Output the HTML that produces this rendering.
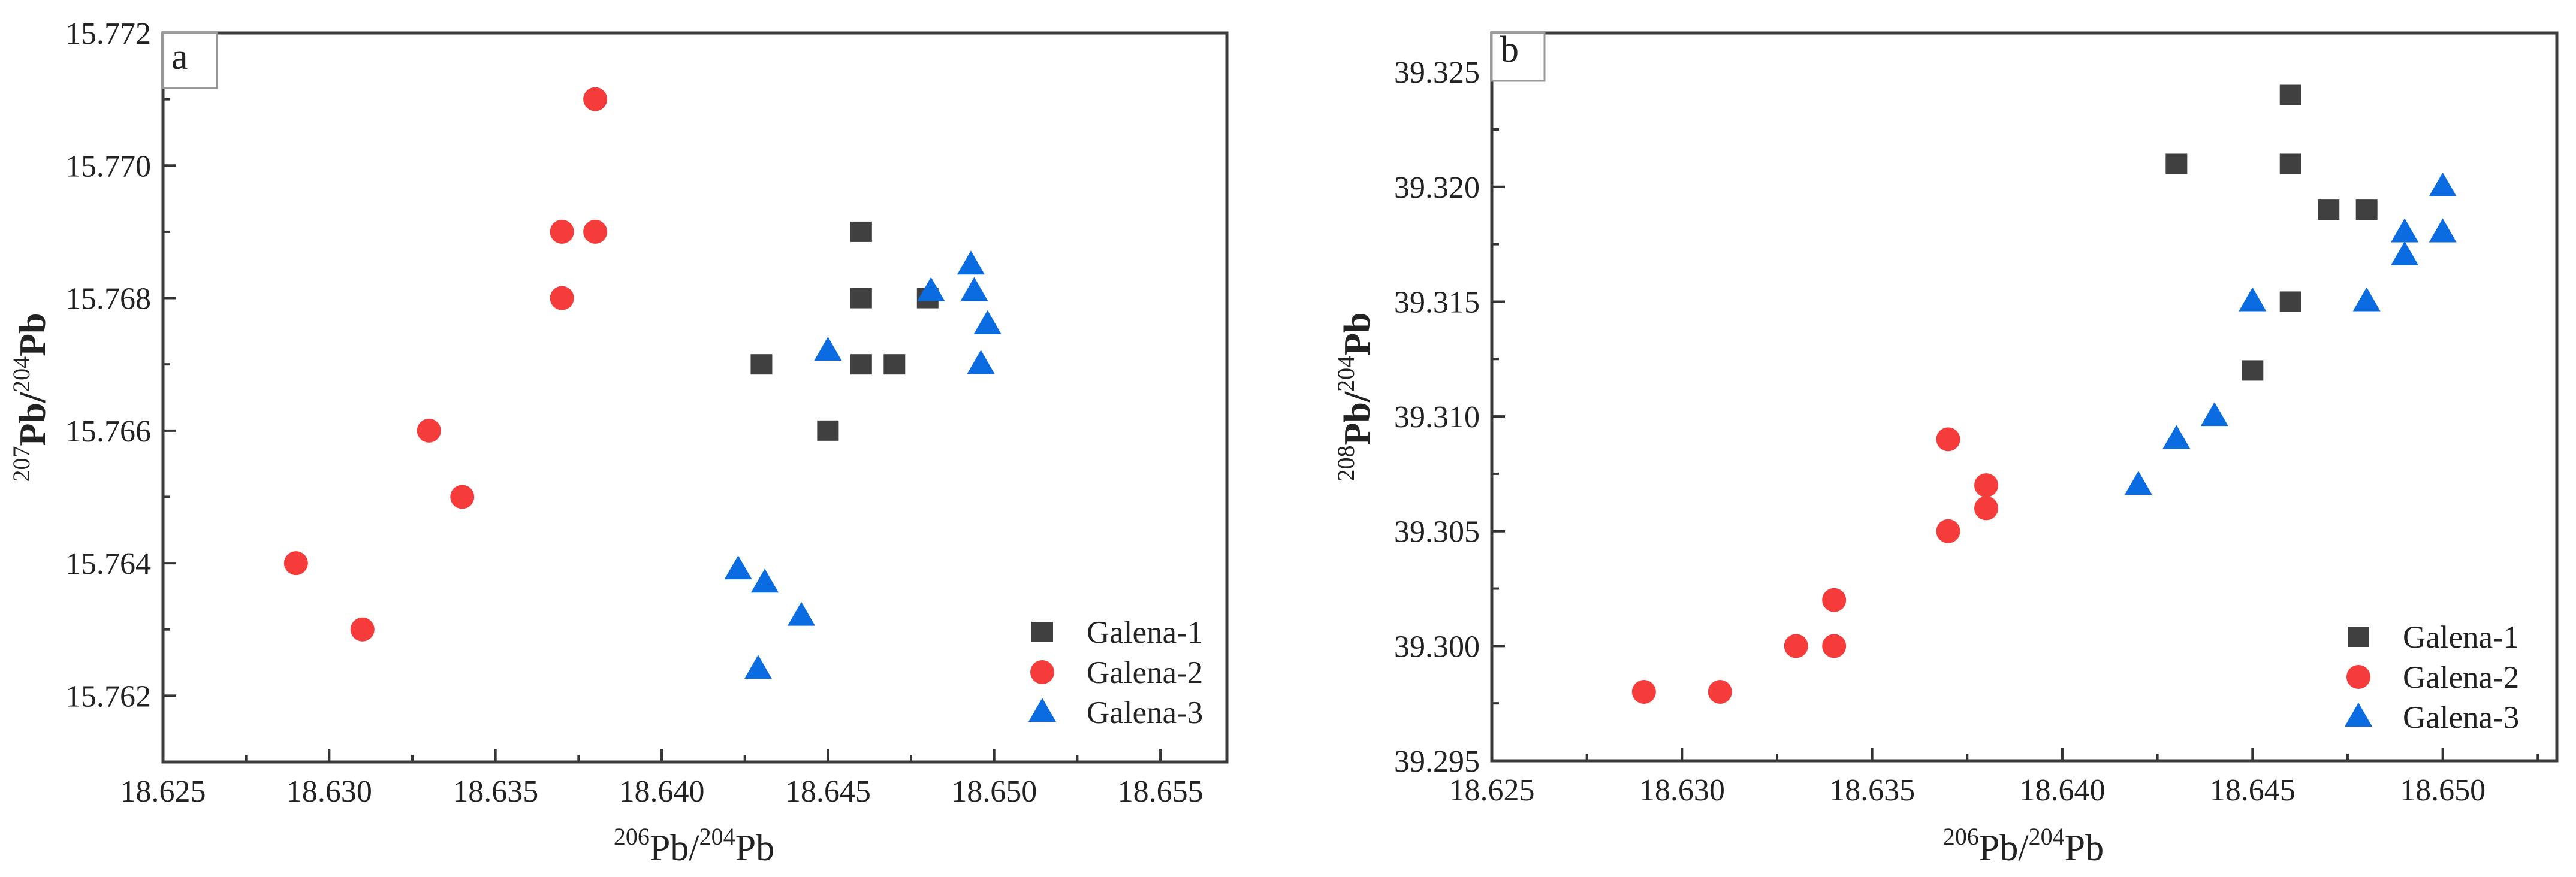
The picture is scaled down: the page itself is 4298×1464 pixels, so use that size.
<!DOCTYPE html>
<html><head><meta charset="utf-8"><style>
html,body{margin:0;padding:0;background:#fff}
svg{display:block}
text{font-family:"Liberation Serif",serif;fill:#222}
</style></head><body>
<svg id="fig" width="4298" height="1464" viewBox="0 0 4298 1464" xmlns="http://www.w3.org/2000/svg"></svg>
<script>
// Panel a data
const aG1x=[18.646,18.646,18.648,18.643,18.646,18.647,18.645];
const aG1y=[15.769,15.768,15.768,15.767,15.767,15.767,15.766];
const aG2x=[18.638,18.637,18.638,18.637,18.633,18.634,18.629,18.631];
const aG2y=[15.771,15.769,15.769,15.768,15.766,15.765,15.764,15.763];
const aG3x=[18.6481,18.6493,18.6494,18.6498,18.6496,18.6450,18.6423,18.6431,18.6442,18.6429];
const aG3y=[15.7681,15.7685,15.7681,15.7676,15.7670,15.7672,15.7639,15.7637,15.7632,15.7624];
// Panel b data
const bG1x=[18.646,18.643,18.646,18.647,18.648,18.646,18.645];
const bG1y=[39.324,39.321,39.321,39.319,39.319,39.315,39.312];
const bG2x=[18.637,18.638,18.638,18.637,18.634,18.633,18.634,18.629,18.631];
const bG2y=[39.309,39.307,39.306,39.305,39.302,39.300,39.300,39.298,39.298];
const bG3x=[18.650,18.649,18.650,18.649,18.645,18.648,18.644,18.643,18.642];
const bG3y=[39.320,39.318,39.318,39.317,39.315,39.315,39.310,39.309,39.307];
const aXTicks=["18.625","18.630","18.635","18.640","18.645","18.650","18.655"];
const aYTicks=["15.762","15.764","15.766","15.768","15.770","15.772"];
const bXTicks=["18.625","18.630","18.635","18.640","18.645","18.650"];
const bYTicks=["39.295","39.300","39.305","39.310","39.315","39.320","39.325"];
const seriesNames=["Galena-1","Galena-2","Galena-3"];

const NS="http://www.w3.org/2000/svg";
const svg=document.getElementById('fig');
function mk(tag,attrs,parent){const e=document.createElementNS(NS,tag);for(const k in attrs)e.setAttribute(k,attrs[k]);(parent||svg).appendChild(e);return e;}
const COL=["#404040","#f63b3b","#0b6be0"];

function marker(g,type,cx,cy){
  let e;
  if(type===0){e=mk('rect',{x:cx-18,y:cy-17,width:36,height:34,fill:COL[0]},g);}
  else if(type===1){e=mk('circle',{cx:cx,cy:cy,r:20,fill:COL[1]},g);}
  else {e=mk('polygon',{points:`${cx},${cy-24} ${cx-23},${cy+16} ${cx+23},${cy+16}`,fill:COL[2]},g);}
  return e;
}

function panel(cfg){
  const g=mk('g',{});
  
  
  const X=v=>cfg.L+(v-cfg.x0)/(cfg.x1-cfg.x0)*(cfg.R-cfg.L);
  const Y=v=>cfg.B-(v-cfg.y0)/(cfg.y1-cfg.y0)*(cfg.B-cfg.T);
  // ticks x
  cfg.xt.forEach((t,i)=>{
    const v=parseFloat(t), px=X(v);
    const tk=mk('line',{x1:px,x2:px,y1:cfg.B,y2:cfg.B-22,stroke:'#333','stroke-width':4},g);
    
    
    const lb=mk('text',{x:px,y:cfg.B+66,'text-anchor':'middle','font-size':52},g);
    lb.textContent=t;
    
    
    const mv=v+cfg.xs/2;
    if(mv<cfg.x1){const mp=X(mv);const m=mk('line',{x1:mp,x2:mp,y1:cfg.B,y2:cfg.B-12,stroke:'#333','stroke-width':4},g);
      
      }
  });
  cfg.yt.forEach(t=>{
    const v=parseFloat(t), py=Y(v);
    const tk=mk('line',{x1:cfg.L,x2:cfg.L+22,y1:py,y2:py,stroke:'#333','stroke-width':4},g);
    
    
    const lb=mk('text',{x:cfg.L-20,y:py+18,'text-anchor':'end','font-size':52},g);
    lb.textContent=t;
    
    
    const mv=v+cfg.ys/2;
    if(mv<cfg.y1){const mp=Y(mv);const m=mk('line',{x1:cfg.L,x2:cfg.L+12,y1:mp,y2:mp,stroke:'#333','stroke-width':4},g);
      
      }
  });
  const fr=mk('rect',{x:cfg.L,y:cfg.T,width:cfg.R-cfg.L,height:cfg.B-cfg.T,fill:'none',stroke:'#3a3a3a','stroke-width':5},g);
  
  
  // panel label box
  const bx=mk('rect',{x:cfg.L,y:cfg.T,width:cfg.lbW,height:cfg.lbH,fill:'#fff',stroke:'#999','stroke-width':3},g);
  
  
  const pl=mk('text',{x:cfg.L+14,y:cfg.T+cfg.lbH-32,'font-size':62},g);
  pl.textContent=cfg.letter;
  
  
  // data
  cfg.series.forEach((s,si)=>{
    const sg=mk('g',{},g);
    
    
    s[0].forEach((xv,i)=>{
      const m=marker(sg,si,X(xv),Y(s[1][i]));
      
      
    });
  });
  // legend
  const lg=mk('g',{},g);
  
  
  seriesNames.forEach((n,i)=>{
    const cy=cfg.legY+i*67;
    const m=marker(lg,i,cfg.legX,cy);
    
    
    const t=mk('text',{x:cfg.legX+74,y:cy+18,'font-size':53},lg);
    t.textContent=n;
    
    
  });
  // axis titles
  const xt=mk('text',{x:cfg.xtX,y:1436,'text-anchor':'middle','font-size':62},g);
  xt.innerHTML='<tspan font-size="40" dy="-26">206</tspan><tspan dy="26">Pb/</tspan><tspan font-size="40" dy="-26">204</tspan><tspan dy="26">Pb</tspan>';
  
  
  const yt=mk('text',{x:0,y:0,'text-anchor':'middle','font-size':62,'font-weight':'bold',transform:`translate(${cfg.ytX},${(cfg.T+cfg.B)/2}) rotate(-90)`},g);
  yt.innerHTML=`<tspan font-size="40" font-weight="normal" dy="-26">${cfg.yIso}</tspan><tspan dy="26">Pb/</tspan><tspan font-size="40" font-weight="normal" dy="-26">204</tspan><tspan dy="26">Pb</tspan>`;
  
  
}

panel({name:'panel-a',letter:'a',L:272,R:2047,T:55,B:1272,x0:18.625,x1:18.657,y0:15.761,y1:15.772,xs:0.005,ys:0.002,
  xt:aXTicks,yt:aYTicks,lbW:90,lbH:92,legX:1739,legY:1055,xtX:1158,ytX:75,yIso:'207',
  series:[[aG1x,aG1y],[aG2x,aG2y],[aG3x,aG3y]]});
panel({name:'panel-b',letter:'b',L:2489,R:4266,T:55,B:1270,x0:18.625,x1:18.653,y0:39.295,y1:39.3267,xs:0.005,ys:0.005,
  xt:bXTicks,yt:bYTicks,lbW:88,lbH:80,legX:3935,legY:1063,xtX:3376,ytX:2285,yIso:'208',
  series:[[bG1x,bG1y],[bG2x,bG2y],[bG3x,bG3y]]});
</script>
</body></html>
